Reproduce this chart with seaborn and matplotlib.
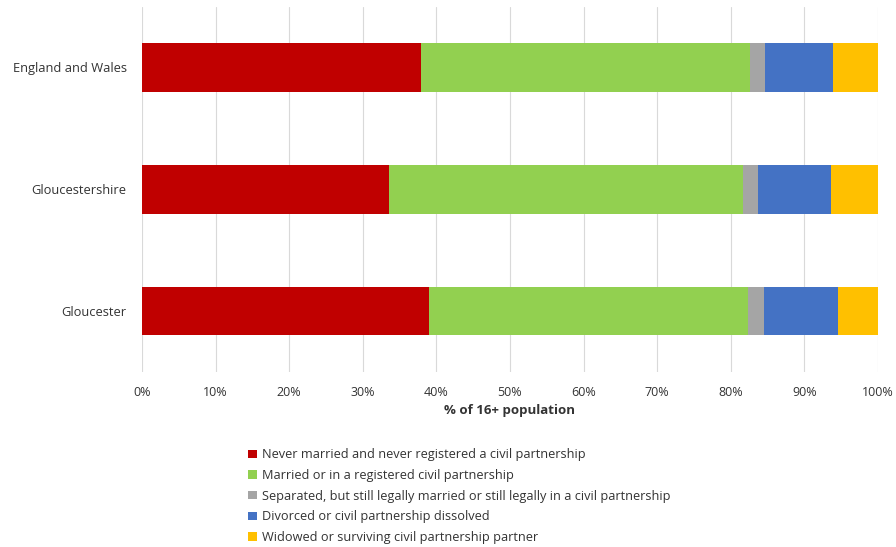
import matplotlib
matplotlib.use("Agg")
import matplotlib.pyplot as plt
import seaborn as sns
import pandas as pd
import numpy as np
from matplotlib.patches import Patch

areas = ["England and Wales", "Gloucestershire", "Gloucester"]
series = [
    "Never married and never registered a civil partnership",
    "Married or in a registered civil partnership",
    "Separated, but still legally married or still legally in a civil partnership",
    "Divorced or civil partnership dissolved",
    "Widowed or surviving civil partnership partner",
]
never_married = [37.9, 33.6, 39.0]
married = [44.7, 48.1, 43.3]
separated = [2.1, 2.0, 2.2]
divorced = [9.2, 9.9, 10.1]
widowed = [6.1, 6.4, 5.4]
colors = ["#C00000", "#92D050", "#A5A5A5", "#4472C4", "#FFC000"]
xticks = [0, 10, 20, 30, 40, 50, 60, 70, 80, 90, 100]

sns.set_theme(style="white")
plt.rcParams["font.family"] = ["Open Sans", "DejaVu Sans"]

vals = np.array([never_married, married, separated, divorced, widowed])
cum = np.cumsum(vals, axis=0)

fig = plt.figure(figsize=(8.96, 5.47), dpi=100)
ax = fig.add_axes([142 / 896, 1 - 372 / 547, (878 - 142) / 896, (372 - 6.5) / 547])

for i in range(len(series) - 1, -1, -1):
    df = pd.DataFrame({"area": areas, "value": cum[i]})
    sns.barplot(data=df, y="area", x="value", orient="h", color=colors[i],
                width=0.4, ax=ax, saturation=1, linewidth=0, zorder=3)

txt = "#333333"
ax.set_xlim(0, 100)
ax.set_ylim(2.5, -0.5)
ax.set_xticks(xticks)
ax.set_xticklabels([f"{t}%" for t in xticks], fontsize=9, color=txt)
ax.tick_params(axis="y", labelsize=9.3, labelcolor=txt, length=0, pad=11)
ax.tick_params(axis="x", length=0, pad=10)
ax.grid(axis="x", color="#D9D9D9", linewidth=0.8, zorder=0)
ax.set_axisbelow(True)
for s in ax.spines.values():
    s.set_visible(False)
ax.set_ylabel("")
ax.set_xlabel("% of 16+ population", fontsize=9.5, fontweight="bold", color=txt, labelpad=4)

handles = [Patch(facecolor=c, edgecolor="none") for c in colors]
fig.legend(handles, series, loc="upper left", bbox_to_anchor=(242 / 896, 1 - 442 / 547),
           frameon=False, fontsize=9.2, handlelength=0.65, handleheight=0.65,
           handletextpad=0.4, labelspacing=0.6, borderpad=0, labelcolor=txt)

fig.savefig("out.png", dpi=100)
